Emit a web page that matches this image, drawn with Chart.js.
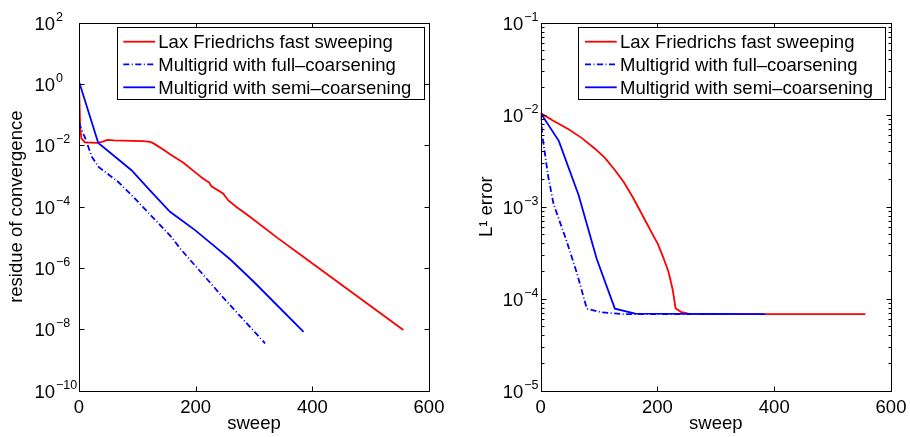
<!DOCTYPE html>
<html>
<head>
<meta charset="utf-8">
<script src="https://cdn.jsdelivr.net/npm/chart.js@4.4.0/dist/chart.umd.min.js"></script>
<style>
body { margin: 0; background: #fff; }
#wrap { position: relative; width: 910px; height: 437px; background: #fff; }
canvas { position: absolute; top: 0; }
</style>
</head>
<body>
<div id="wrap">
  <canvas id="left" width="455" height="437" style="left:0"></canvas>
  <canvas id="right" width="455" height="437" style="left:455px"></canvas>
</div>
<script>
const seriesNames = ["Lax Friedrichs fast sweeping", "Multigrid with full\u2013coarsening", "Multigrid with semi\u2013coarsening"];
const xTicks = [0, 200, 400, 600];
const leftExps = [-10, -8, -6, -4, -2, 0, 2];
const rightExps = [-5, -4, -3, -2, -1];

// residue of convergence (left panel)
const resLaxX = [0, 2, 4, 10, 30, 40, 48, 60, 90, 110, 122, 127, 133, 145, 156, 179, 202, 212, 219, 223, 227, 247, 256, 270, 293, 339, 385, 556];
const resLaxY = [1.0, 4e-2, 1.7e-2, 1.25e-2, 1.2e-2, 1.3e-2, 1.5e-2, 1.45e-2, 1.4e-2, 1.38e-2, 1.3e-2, 1.18e-2, 1.0e-2, 7.2e-3, 5.1e-3, 2.7e-3, 1.2e-3, 8.5e-4, 6.9e-4, 6.2e-4, 4.6e-4, 2.7e-4, 1.6e-4, 9.8e-5, 4.7e-5, 1e-5, 2.3e-6, 9.5e-9];
const resFullX = [0, 5, 11, 22, 34, 67, 93, 159, 173, 250, 319];
const resFullY = [5.5e-2, 3e-2, 1.66e-2, 4.2e-3, 1.95e-3, 6.5e-4, 2.1e-4, 1.0e-5, 4.4e-6, 9.5e-8, 3.5e-9];
const resSemiX = [0, 33, 65, 90, 120, 156, 173, 200, 230, 260, 300, 340, 385];
const resSemiY = [1.2, 1.2e-2, 3.8e-3, 1.55e-3, 3.7e-4, 6.8e-5, 4.0e-5, 1.66e-5, 5.6e-6, 1.86e-6, 3.5e-7, 6.0e-8, 8.3e-9];

// L1 error (right panel)
const errLaxX = [0, 20, 47, 70, 93, 110, 127, 143, 158, 170, 180, 191, 201, 210, 219, 226, 231, 240, 253, 270, 287, 556];
const errLaxY = [1.04e-2, 8.7e-3, 7.0e-3, 5.6e-3, 4.27e-3, 3.39e-3, 2.51e-3, 1.82e-3, 1.26e-3, 9.1e-4, 6.9e-4, 5.1e-4, 3.9e-4, 2.8e-4, 1.95e-4, 1.26e-4, 7.9e-5, 7.2e-5, 6.9e-5, 6.85e-5, 6.8e-5, 6.8e-5];
const errFullX = [0, 3, 13, 22, 44, 62, 79, 104, 140, 320];
const errFullY = [1e-2, 5.8e-3, 2.1e-3, 1.07e-3, 4.3e-4, 1.9e-4, 7.8e-5, 7.1e-5, 6.8e-5, 6.8e-5];
const errSemiX = [0, 31, 65, 96, 127, 162, 384];
const errSemiY = [1.04e-2, 5.2e-3, 1.33e-3, 2.7e-4, 7.8e-5, 6.9e-5, 6.8e-5];

const FONT = '"Liberation Sans", Arial, Helvetica, sans-serif';
const styles = [
  { color: "#ff0000", dash: [] },
  { color: "#0000ff", dash: [6, 2.5, 1, 2.5] },
  { color: "#0000ff", dash: [] }
];

function pts(xs, ys) {
  return xs.map((x, i) => ({ x: x, y: ys[i] }));
}

function makeDatasets(series) {
  return series.map((s, i) => ({
    label: seriesNames[i],
    data: pts(s[0], s[1]),
    borderColor: styles[i].color,
    borderDash: styles[i].dash,
    borderWidth: 1.8,
    pointRadius: 0,
    tension: 0,
    fill: false,
    order: 3 - i
  }));
}

// draws MATLAB-like frame, inside ticks, 10^n labels and boxed legend
const matlabAxes = {
  id: "matlabAxes",
  afterDatasetsDraw(chart, args, opts) {
    const ctx = chart.ctx, a = chart.chartArea;
    const xs = chart.scales.x, ys = chart.scales.y;
    const L = Math.round(a.left) + 0.5, R = Math.round(a.right) + 0.5;
    const T = Math.round(a.top) + 0.5, B = Math.round(a.bottom) + 0.5;
    ctx.save();
    ctx.strokeStyle = "#000";
    ctx.lineWidth = 1;
    ctx.setLineDash([]);
    ctx.beginPath();
    // x ticks
    xTicks.forEach(v => {
      const px = Math.round(xs.getPixelForValue(v)) + 0.5;
      ctx.moveTo(px, B); ctx.lineTo(px, B - 5);
      ctx.moveTo(px, T); ctx.lineTo(px, T + 5);
    });
    // y major ticks
    opts.exps.forEach(e => {
      const py = Math.round(ys.getPixelForValue(Math.pow(10, e))) + 0.5;
      ctx.moveTo(L, py); ctx.lineTo(L + 5, py);
      ctx.moveTo(R, py); ctx.lineTo(R - 5, py);
    });
    // y minor ticks
    if (opts.minor) {
      for (let e = opts.exps[0]; e < opts.exps[opts.exps.length - 1]; e++) {
        for (let k = 2; k <= 9; k++) {
          const py = Math.round(ys.getPixelForValue(k * Math.pow(10, e))) + 0.5;
          ctx.moveTo(L, py); ctx.lineTo(L + 3, py);
          ctx.moveTo(R, py); ctx.lineTo(R - 3, py);
        }
      }
    }
    ctx.stroke();
    ctx.strokeRect(L, T, R - L, B - T);

    // tick labels
    ctx.fillStyle = "#000";
    ctx.textBaseline = "alphabetic";
    ctx.font = "18.5px " + FONT;
    ctx.textAlign = "center";
    xTicks.forEach(v => {
      ctx.fillText(String(v), xs.getPixelForValue(v), 412.7);
    });
    opts.exps.forEach(e => {
      const py = ys.getPixelForValue(Math.pow(10, e));
      ctx.font = "18.5px " + FONT;
      ctx.textAlign = "right";
      ctx.fillText("10", opts.baseX, py + 7);
      ctx.font = "12.5px " + FONT;
      ctx.textAlign = "left";
      ctx.fillText(e < 0 ? "\u2212" + (-e) : String(e), opts.baseX + 1, py - 2);
    });

    // legend
    const lg = opts.legend;
    ctx.fillStyle = "#fff";
    ctx.fillRect(lg.x, lg.y, lg.w, lg.h);
    ctx.strokeStyle = "#000";
    ctx.strokeRect(Math.round(lg.x) + 0.5, Math.round(lg.y) + 0.5, Math.round(lg.w), Math.round(lg.h));
    chart.data.datasets.forEach((ds, i) => {
      const yy = lg.rows[i];
      ctx.beginPath();
      ctx.strokeStyle = ds.borderColor;
      ctx.lineWidth = 1.8;
      ctx.setLineDash(ds.borderDash);
      ctx.moveTo(lg.lineX0, yy);
      ctx.lineTo(lg.lineX1, yy);
      ctx.stroke();
      ctx.setLineDash([]);
      ctx.fillStyle = "#000";
      ctx.font = "18.5px " + FONT;
      ctx.textAlign = "left";
      ctx.fillText(ds.label, lg.textX, yy + 6.6);
    });
    ctx.restore();
  }
};

function makeChart(id, series, yMin, yMax, yTitle, yWidth, yTitlePad, padRight, axesOpts) {
  return new Chart(document.getElementById(id), {
    type: "line",
    data: { datasets: makeDatasets(series) },
    plugins: [matlabAxes],
    options: {
      responsive: false,
      animation: false,
      layout: { padding: { left: 0, top: 22.7, right: padRight, bottom: 0 } },
      scales: {
        x: {
          type: "linear", min: 0, max: 600,
          ticks: { display: false },
          grid: { display: false },
          border: { display: false },
          title: { display: true, text: "sweep", color: "#000", font: { family: FONT, size: 18.5 }, padding: { top: 0, bottom: 2.4 } },
          afterFit: s => { s.height = 46.3; }
        },
        y: {
          type: "logarithmic", min: yMin, max: yMax,
          ticks: { display: false },
          grid: { display: false },
          border: { display: false },
          title: { display: true, text: yTitle, color: "#000", font: { family: FONT, size: 18.5 }, padding: { top: yTitlePad, bottom: 0 } },
          afterFit: s => { s.width = yWidth; }
        }
      },
      plugins: {
        legend: { display: false },
        tooltip: { enabled: false },
        matlabAxes: axesOpts
      }
    }
  });
}

const legendRows = [41.7, 64.3, 87.3];

makeChart("left",
  [[resLaxX, resLaxY], [resFullX, resFullY], [resSemiX, resSemiY]],
  1e-10, 1e2, "residue of convergence", 79, 5.7, 26,
  { exps: leftExps, minor: false, baseX: 55,
    legend: { x: 116.7, y: 27.3, w: 307.3, h: 72, rows: legendRows, lineX0: 123.3, lineX1: 155, textX: 158.3 } });

makeChart("right",
  [[errLaxX, errLaxY], [errFullX, errFullY], [errSemiX, errSemiY]],
  1e-5, 1e-1, "L\u00b9 error", 85.7, 20.4, 19,
  { exps: rightExps, minor: true, baseX: 68.3,
    legend: { x: 123.3, y: 27.3, w: 307.4, h: 72, rows: legendRows, lineX0: 130, lineX1: 161.7, textX: 165 } });
</script>
</body>
</html>
